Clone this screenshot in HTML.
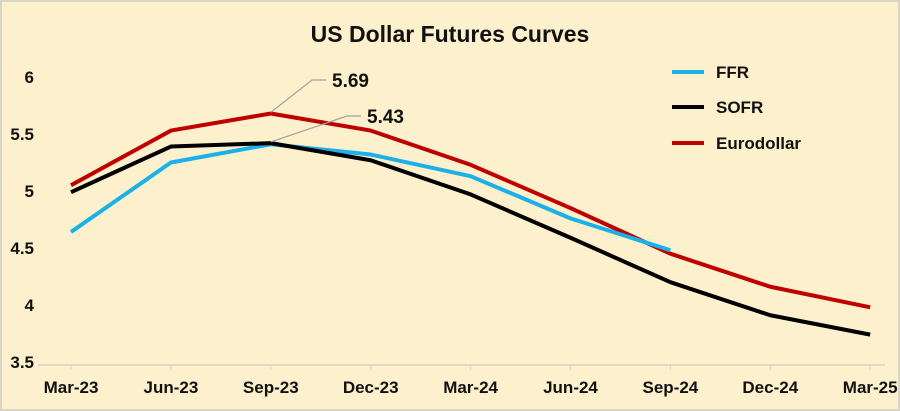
<!DOCTYPE html>
<html><head><meta charset="utf-8"><style>
html,body{margin:0;padding:0;background:#fff}
svg{display:block}
text{font-family:"Liberation Sans",sans-serif;fill:#111}
</style></head><body>
<svg id="chart" width="900" height="411">
<rect x="0" y="0" width="900" height="411" fill="#d9d4c8"/>
<rect x="2" y="2" width="896" height="407" fill="#fdf0cc"/>
<text x="450" y="42" text-anchor="middle" font-size="23" font-weight="bold">US Dollar Futures Curves</text>
<g id="axes"></g>
<g id="series"></g>
<g id="annotations"></g>
<g id="legend"></g>
</svg>
<script>
const categories=["Mar-23","Jun-23","Sep-23","Dec-23","Mar-24","Jun-24","Sep-24","Dec-24","Mar-25"];
const yTicks=[3.5,4,4.5,5,5.5,6];
const yTickLabels=["3.5","4","4.5","5","5.5","6"];
const ffr=[4.64,5.25,5.41,5.32,5.13,4.76,4.48,null,null];
const sofr=[4.99,5.39,5.42,5.27,4.97,4.59,4.20,3.91,3.74];
const eurodollar=[5.05,5.53,5.68,5.53,5.23,4.85,4.45,4.16,3.98];
const annotationValues=[5.69,5.43];

const NS="http://www.w3.org/2000/svg";
function x(i){return 71+i*99.9;}
function y(v){return 191-(v-5)*114;}
function mk(t,a,p){const e=document.createElementNS(NS,t);for(const k in a)e.setAttribute(k,a[k]);p.appendChild(e);return e;}
const axes=document.getElementById('axes');
const ax=mk('line',{x1:38,x2:885,y1:365,y2:365,stroke:'#ddd3bd','stroke-width':1.5},axes);


categories.forEach((c,i)=>{
  const tk=mk('line',{x1:x(i),x2:x(i),y1:365,y2:370,stroke:'#ddd3bd'},axes);
  
  
  const t=mk('text',{x:x(i),y:393,'text-anchor':'middle','font-size':17,'font-weight':'bold'},axes);
  t.textContent=c;
  
  
});
yTicks.forEach((v,i)=>{
  const t=mk('text',{x:34,y:y(v)+6,'text-anchor':'end','font-size':17,'font-weight':'bold'},axes);
  t.textContent=yTickLabels[i];
  
  
});
const S=document.getElementById('series');
function line(data,color,name){
  const pts=[];data.forEach((v,i)=>{if(v!=null)pts.push(x(i)+','+y(v));});
  const p=mk('polyline',{points:pts.join(' '),fill:'none',stroke:color,'stroke-width':4,'stroke-linejoin':'round'},S);
  
  
}
line(eurodollar,'#c00000','eurodollar-line');
line(ffr,'#1ab0e8','ffr-line');
line(sofr,'#000000','sofr-line');
const A=document.getElementById('annotations');
function ann(i,v,tx,ty,name){
  const l=mk('polyline',{points:`${x(i)},${y(v)} ${tx-20},${ty} ${tx-6},${ty}`,fill:'none',stroke:'#a0a0a0','stroke-width':1.2},A);
  
  
  const t=mk('text',{x:tx,y:ty+7,'font-size':19,'font-weight':'bold'},A);
  t.textContent=v.toFixed(2);
  
  
}
ann(2,annotationValues[0],332,80,'eurodollar-peak-label');
ann(2,annotationValues[1],367,116,'sofr-peak-label');
const L=document.getElementById('legend');
[['FFR','#1ab0e8',72],['SOFR','#000',107],['Eurodollar','#c00000',143]].forEach(([n,c,yy])=>{
  const g=mk('g',{},L);
  
  
  mk('line',{x1:672,x2:704,y1:yy,y2:yy,stroke:c,'stroke-width':4},g);
  const t=mk('text',{x:716,y:yy+6,'font-size':17,'font-weight':'bold'},g);
  t.textContent=n;
});
</script>
</body></html>
